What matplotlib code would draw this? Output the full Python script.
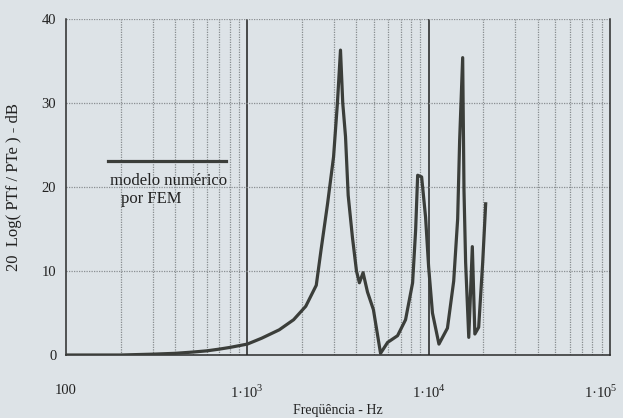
import numpy as np
import matplotlib.pyplot as plt
import matplotlib.transforms as mtransforms
from matplotlib.ticker import FixedLocator, NullFormatter

plt.rcParams['font.family'] = ['Liberation Serif', 'DejaVu Serif']
plt.rcParams['mathtext.fontset'] = 'custom'
plt.rcParams['mathtext.rm'] = 'Liberation Serif'

# resposta do modelo numerico (FEM)
freq_hz = [100, 200, 300, 400, 500, 600, 700, 800, 1000, 1200, 1500, 1800,
           2100, 2400, 2550, 2770, 2990, 3140, 3265, 3360, 3480, 3600, 3800,
           4000, 4150, 4350, 4600, 4960, 5430, 5940, 6740, 7460, 8160, 8480,
           8700, 9150, 9620, 10000, 10500, 11400, 12700, 13750, 14460, 14830,
           15410, 15670, 16000, 16650, 17420, 17990, 18880, 19870, 20640]
db = [0, 0, 0.1, 0.2, 0.35, 0.5, 0.7, 0.9, 1.3, 2.0, 3.0, 4.2,
      5.8, 8.3, 12.5, 18, 23.6, 30, 36.3, 30, 26, 19, 14,
      10, 8.6, 9.8, 7.5, 5.4, 0.2, 1.5, 2.3, 4.2, 8.6, 14.9,
      21.4, 21.2, 16.4, 10.5, 5, 1.3, 3.2, 8.8, 16.2, 25.6,
      35.4, 19.6, 11, 2.1, 12.9, 2.5, 3.3, 11, 18]

y_ticks = [0, 10, 20, 30, 40]
x_ticks = [100, 1e3, 1e4, 1e5]
x_ticklabels = ['100', '1·10$^{3}$', '1·10$^{4}$', '1·10$^{5}$']

bg = '#dde3e7'
line_col = '#3b3e3a'

fig = plt.figure(figsize=(6.23, 4.18), dpi=100, facecolor=bg)
ax = fig.add_axes([0.106, 0.1507, 0.873, 0.8038], facecolor=bg)

ax.set_xscale('log')
ax.set_xlim(100, 1e5)
ax.set_ylim(0, 40)

# grade
minors = [m * 10 ** d for d in (2, 3, 4) for m in range(2, 10)]
for xv in minors:
    ax.axvline(xv, color='#878c8f', lw=0.9, ls=(0, (1, 1)), zorder=1)
for xv in (1e3, 1e4):
    ax.axvline(xv, color='#1e1e1e', lw=1.1, zorder=1)
for yv in (10, 20, 30, 40):
    ax.axhline(yv, color='#8a8f92', lw=0.9, ls=(0, (1, 1)), zorder=1)

ax.plot(freq_hz, db, color=line_col, lw=2.3, zorder=3)

for s in ('left', 'bottom', 'right'):
    ax.spines[s].set_color('#2a2a2a')
    ax.spines[s].set_linewidth(1.1)
ax.spines['top'].set_visible(False)

ax.xaxis.set_major_locator(FixedLocator(x_ticks))
ax.xaxis.set_minor_locator(FixedLocator(minors))
ax.xaxis.set_minor_formatter(NullFormatter())
ax.set_xticklabels(x_ticklabels)
ax.set_yticks(y_ticks)
ax.tick_params(axis='both', which='both', length=0, labelsize=10.5, colors='#222222')
ax.tick_params(axis='x', pad=21)
ax.tick_params(axis='y', pad=7)

# ultimo rotulo um pouco para dentro
last = ax.get_xticklabels()[-1]
last.set_transform(last.get_transform() +
                   mtransforms.ScaledTranslation(-9 / 100, 0, fig.dpi_scale_trans))

ax.set_xlabel('Freqüência - Hz', fontsize=10, color='#222222', labelpad=2)
ax.set_ylabel('20  Log( PTf / PTe ) - dB', fontsize=12, color='#222222', labelpad=14)

# legenda
ax.plot([0.077, 0.294], [0.577, 0.577], transform=ax.transAxes, color=line_col, lw=2.3)
ax.text(0.188, 0.518, 'modelo numérico', transform=ax.transAxes, ha='center',
        va='center', fontsize=12, color='#222222')
ax.text(0.157, 0.463, 'por FEM', transform=ax.transAxes, ha='center',
        va='center', fontsize=12, color='#222222')

fig.savefig('out.png', dpi=100, facecolor=bg)
